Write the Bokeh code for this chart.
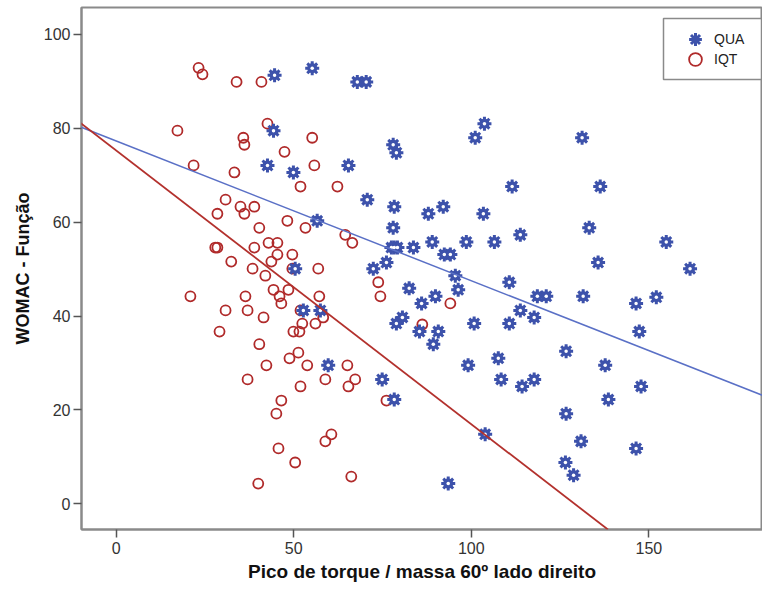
from bokeh.plotting import figure
from bokeh.models import Range1d, FixedTicker, Slope, Legend, LegendItem, BoxAnnotation
from bokeh.embed import file_html
from bokeh.resources import INLINE

# ---- data ----
qua_x = [44.6, 55.2, 67.9, 70.4, 44.3, 103.7, 101.1, 131.2, 78.0, 78.9, 42.6, 65.4, 49.9,
         111.5, 136.3, 70.7, 78.3, 87.9, 92.1, 103.4, 56.6, 78.0, 133.2, 113.8, 89.0, 98.6,
         106.5, 154.9, 78.3, 77.5, 79.2, 83.7, 92.4, 94.1, 76.1, 72.4, 135.7, 161.6, 50.4,
         95.5, 110.7, 82.5, 96.3, 118.6, 121.1, 131.5, 146.4, 152.1, 89.9, 86.0, 52.7, 57.5,
         80.6, 78.9, 117.7, 113.8, 85.4, 90.7, 100.8, 110.7, 147.3, 89.3, 126.7, 59.7, 99.1,
         137.7, 107.6, 74.9, 108.4, 117.7, 114.3, 147.8, 78.3, 138.6, 126.7, 103.9, 130.9,
         146.4, 126.5, 128.8, 93.5]
qua_y = [91.3, 92.8, 89.9, 89.9, 79.5, 81.0, 78.0, 78.0, 76.5, 74.8, 72.1, 72.1, 70.6,
         67.6, 67.6, 64.8, 63.3, 61.8, 63.3, 61.8, 60.3, 58.8, 58.8, 57.3, 55.8, 55.8,
         55.8, 55.8, 54.6, 54.6, 54.6, 54.6, 53.1, 53.1, 51.4, 50.1, 51.4, 50.1, 50.1,
         48.6, 47.2, 45.9, 45.6, 44.2, 44.2, 44.2, 42.7, 44.0, 44.2, 42.7, 41.2, 41.2,
         39.7, 38.4, 39.7, 41.2, 36.7, 36.7, 38.4, 38.4, 36.7, 34.0, 32.5, 29.5, 29.5,
         29.5, 31.0, 26.5, 26.5, 26.5, 25.0, 25.0, 22.2, 22.2, 19.2, 14.8, 13.3,
         11.8, 8.8, 6.1, 4.3]

iqt_x = [17.25, 23.2, 24.3, 33.9, 40.9, 42.6, 35.8, 36.1, 55.2, 47.4, 21.8, 33.3, 55.8,
         51.9, 62.3, 30.8, 35.0, 38.9, 28.5, 36.1, 48.2, 40.3, 53.3, 64.5, 66.5, 42.9, 45.4,
         27.9, 28.5, 38.9, 45.4, 49.6, 32.4, 43.7, 38.4, 49.6, 56.9, 42.0, 44.3, 48.5, 46.0,
         57.2, 20.9, 36.4, 46.5, 30.8, 37.0, 51.9, 41.5, 58.3, 52.4, 56.1, 29.1, 49.9, 51.6,
         40.3, 51.3, 48.8, 42.3, 53.8, 65.1, 37.0, 58.9, 67.3, 65.4, 51.9, 46.5, 45.1, 60.6,
         58.9, 45.7, 50.4, 66.2, 40.0, 73.8, 74.4, 94.1, 86.2, 76.1]
iqt_y = [79.5, 92.9, 91.5, 89.9, 89.9, 81.0, 78.0, 76.5, 78.0, 75.0, 72.1, 70.6, 72.1,
         67.6, 67.6, 64.8, 63.3, 63.3, 61.8, 61.8, 60.3, 58.8, 58.8, 57.3, 55.6, 55.6, 55.6,
         54.6, 54.6, 54.6, 53.1, 53.1, 51.6, 51.6, 50.1, 50.1, 50.1, 48.6, 45.6, 45.6, 44.2,
         44.2, 44.2, 44.2, 42.7, 41.2, 41.2, 41.2, 39.7, 39.7, 38.4, 38.4, 36.7, 36.7, 36.7,
         34.0, 32.2, 31.0, 29.5, 29.5, 29.5, 26.5, 26.5, 26.5, 25.0, 25.0, 22.0, 19.2, 14.8,
         13.3, 11.8, 8.8, 5.8, 4.3, 47.2, 44.2, 42.7, 38.2, 22.0]

# fit lines (slope, intercept)
qua_fit = (-0.2977, 77.3)
iqt_fit = (-0.5834, 75.3)

x_ticks = [0, 50, 100, 150]
y_ticks = [0, 20, 40, 60, 80, 100]
x_title = "Pico de torque / massa 60º lado direito"
y_title = "WOMAC - Função"
labels = ["QUA", "IQT"]

BLUE = "#3d52ab"
BLUE_LINE = "#5a70c6"
RED = "#b02a2a"
RED_LINE = "#b3312d"
GREY = "#8a8a8a"
FONT = "Liberation Sans"

p = figure(width=762, height=589, output_backend="svg", toolbar_location=None,
           x_range=Range1d(-9.77, 182.0), y_range=Range1d(-5.48, 105.75),
           min_border_left=81, min_border_right=0, min_border_top=7, min_border_bottom=60)
p.background_fill_color = "white"
p.border_fill_color = "white"
p.outline_line_color = GREY
p.outline_line_width = 2
p.xgrid.visible = False
p.ygrid.visible = False

for ax in (p.xaxis[0], p.yaxis[0]):
    ax.axis_line_color = GREY
    ax.axis_line_width = 2
    ax.major_tick_line_color = "#555555"
    ax.major_tick_line_width = 1.5
    ax.major_tick_out = 8
    ax.major_tick_in = 0
    ax.minor_tick_line_color = None
    ax.major_label_text_font = FONT
    ax.major_label_text_font_size = "16px"
    ax.major_label_text_color = "#333333"
    ax.axis_label_text_font = FONT
    ax.axis_label_text_font_style = "bold"
    ax.axis_label_text_color = "#111111"

p.xaxis.ticker = FixedTicker(ticks=x_ticks)
p.yaxis.ticker = FixedTicker(ticks=y_ticks)
p.xaxis.axis_label = x_title
p.yaxis.axis_label = y_title
p.xaxis.axis_label_text_font_size = "19px"
p.yaxis.axis_label_text_font_size = "18px"
p.xaxis.major_label_standoff = 4
p.yaxis.major_label_standoff = 3
p.xaxis.axis_label_standoff = 4
p.yaxis.axis_label_standoff = 8

# fit lines
p.add_layout(Slope(gradient=qua_fit[0], y_intercept=qua_fit[1], line_color=BLUE_LINE, line_width=1.5))
p.add_layout(Slope(gradient=iqt_fit[0], y_intercept=iqt_fit[1], line_color=RED_LINE, line_width=1.8))

# IQT circles
r_iqt = p.scatter(iqt_x, iqt_y, marker="circle", size=10, fill_color=None,
                  line_color=RED, line_width=1.8)

# QUA gear-like stars
r_qua = p.scatter(qua_x, qua_y, marker="asterisk", size=14, line_color=BLUE, line_width=3)
p.scatter(qua_x, qua_y, marker="circle", size=10, fill_color=BLUE, line_color=None)
p.scatter(qua_x, qua_y, marker="circle", size=3.5, fill_color="white", line_color=None)

# legend frame
try:
    box = BoxAnnotation(left=663, right=761, top=18, bottom=79,
                        left_units="canvas", right_units="canvas",
                        top_units="canvas", bottom_units="canvas",
                        fill_color="white", fill_alpha=1,
                        line_color=GREY, line_width=1.5, line_alpha=1)
    p.add_layout(box)
except Exception:
    pass

def make_legend(label, rend, yoff):
    lg = Legend(items=[LegendItem(label=label, renderers=[rend])], location=(598, yoff))
    lg.glyph_height = 32
    lg.glyph_width = 32
    lg.label_height = 32
    lg.spacing = 0
    lg.padding = 0
    lg.margin = 0
    lg.label_standoff = 3
    lg.label_text_font = FONT
    lg.label_text_font_size = "14px"
    lg.label_text_color = "#222222"
    lg.border_line_color = None
    lg.background_fill_alpha = 0
    return lg

p.add_layout(make_legend(labels[0], r_qua, 474))
p.add_layout(make_legend(labels[1], r_iqt, 454))

open("out.html", "w").write(file_html(p, INLINE))
